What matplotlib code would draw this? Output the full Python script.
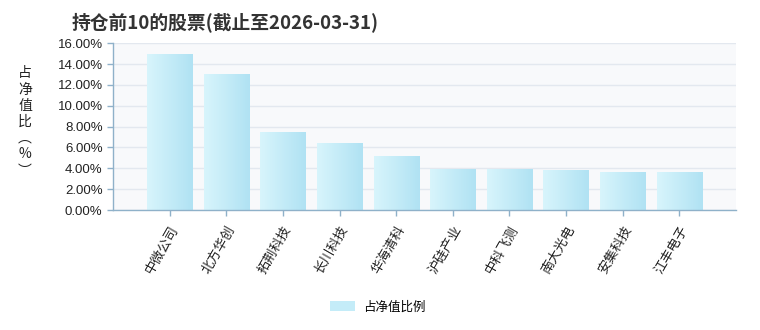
import numpy as np
import matplotlib
matplotlib.use("Agg")
import matplotlib.pyplot as plt
from matplotlib.colors import LinearSegmentedColormap
from matplotlib.patches import Patch

# data
stocks = ["中微公司", "北方华创", "拓荆科技", "长川科技", "华海清科",
          "沪硅产业", "中科飞测", "南大光电", "安集科技", "江丰电子"]
weights = [14.88, 12.96, 7.39, 6.34, 5.09, 3.84, 3.84, 3.75, 3.56, 3.56]
y_ticks = np.arange(0, 17, 2)
title = "持仓前10的股票(截止至2026-03-31)"
series_name = "占净值比例"

plt.rcParams["font.family"] = ["Noto Sans CJK SC", "DejaVu Sans"]

spine_color = "#8fb1c9"
fig = plt.figure(figsize=(7.6, 3.3), dpi=100)
ax = fig.add_axes([0.1487, 0.3636, 0.8197, 0.5052])
ax.set_facecolor("#f8f9fb")

x = np.arange(len(stocks))
bars = ax.bar(x, weights, width=0.8, color="none", edgecolor="none", zorder=2)

# horizontal gradient fill for each bar
cmap = LinearSegmentedColormap.from_list("bar", ["#d8f5fc", "#b0e2f3"])
grad = np.linspace(0, 1, 256).reshape(1, -1)
for b in bars:
    x0, y0 = b.get_x(), b.get_y()
    ax.imshow(grad, cmap=cmap, aspect="auto", zorder=2, interpolation="bilinear",
              extent=[x0, x0 + b.get_width(), y0, y0 + b.get_height()])

ax.set_xlim(-1, len(stocks))
ax.set_ylim(0, 16)
ax.set_yticks(y_ticks)
ax.set_yticklabels([f"{v:.2f}%" for v in y_ticks], fontsize=9.5,
                   family=["Liberation Sans", "DejaVu Sans"], color="#222222")
ax.set_xticks(x)
ax.set_xticklabels(stocks, rotation=60, ha="right", va="top",
                   rotation_mode="anchor", fontsize=9.5, color="#222222")
ax.tick_params(axis="both", color=spine_color, length=4, width=1)
ax.tick_params(axis="x", pad=6)

ax.yaxis.grid(True, color="#e3e8ef", linewidth=1, zorder=1)
ax.set_axisbelow(True)
for side in ["top", "right"]:
    ax.spines[side].set_visible(False)
for side in ["left", "bottom"]:
    ax.spines[side].set_color(spine_color)
    ax.spines[side].set_linewidth(1)

fig.text(72 / 760, 1 - 22 / 330, title, fontsize=13.5, fontweight="bold",
         color="#333333", ha="left", va="center")
fig.text(25 / 760, 1 - 122 / 330, "占\n净\n值\n比\n︵\n%\n︶", fontsize=10,
         ha="center", va="center", linespacing=1.2, color="#222222")

handle = Patch(facecolor="#c4ecf8", edgecolor="none")
fig.legend([handle], [series_name], loc="center", bbox_to_anchor=(0.497, 1 - 307 / 330),
           frameon=False, fontsize=9, handlelength=2.0, handleheight=0.8,
           handletextpad=0.6)

fig.savefig("out.png", dpi=100)
